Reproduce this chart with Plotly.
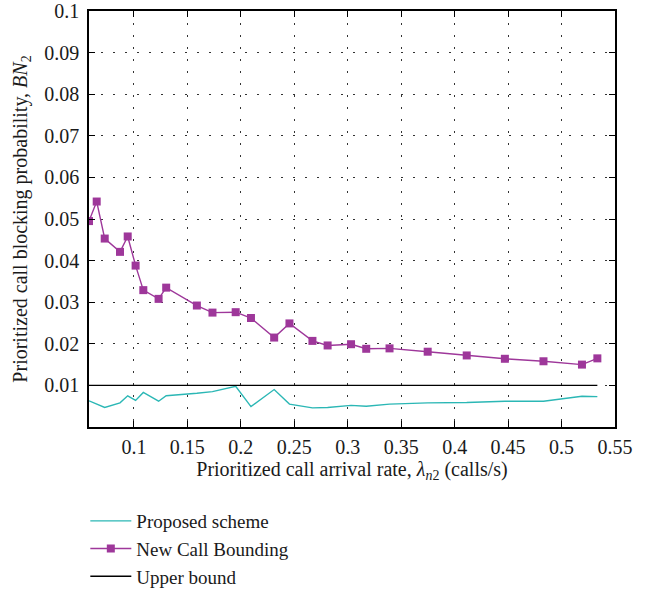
import plotly.graph_objects as go

# New Call Bounding
ncb_x = [0.058, 0.0652, 0.0727, 0.0870, 0.0942, 0.1016, 0.1088, 0.1231, 0.1302, 0.1589,
         0.1735, 0.1952, 0.2095, 0.2312, 0.2455, 0.2670, 0.2812, 0.3031, 0.3173, 0.3391,
         0.3748, 0.4113, 0.4470, 0.4831, 0.5191, 0.5335]
ncb_y = [0.0495, 0.0542, 0.0453, 0.0421, 0.0458, 0.0388, 0.0329, 0.0308, 0.0335, 0.0292,
         0.0275, 0.0276, 0.0262, 0.0215, 0.0249, 0.0207, 0.0196, 0.0199, 0.0188, 0.0189,
         0.0181, 0.0172, 0.0164, 0.0158, 0.0150, 0.0165]

# Proposed scheme
ps_x = [0.058, 0.0727, 0.0870, 0.0942, 0.1016, 0.1088, 0.1231, 0.1302, 0.1589, 0.1735,
        0.1952, 0.2095, 0.2312, 0.2455, 0.2670, 0.2812, 0.3031, 0.3173, 0.3391, 0.3748,
        0.4113, 0.4470, 0.4831, 0.5191, 0.5335]
ps_y = [0.0063, 0.0047, 0.0058, 0.0075, 0.0064, 0.0083, 0.0062, 0.0075, 0.0081, 0.0085,
        0.0098, 0.0049, 0.0090, 0.0055, 0.0046, 0.0047, 0.0052, 0.0050, 0.0055, 0.0058,
        0.0059, 0.0062, 0.0062, 0.0074, 0.0073]

# Upper bound
ub_x = [0.058, 0.5335]
ub_y = [0.01, 0.01]

x_ticks = [0.1, 0.15, 0.2, 0.25, 0.3, 0.35, 0.4, 0.45, 0.5, 0.55]
x_labels = ["0.1", "0.15", "0.2", "0.25", "0.3", "0.35", "0.4", "0.45", "0.5", "0.55"]
y_ticks = [0.01, 0.02, 0.03, 0.04, 0.05, 0.06, 0.07, 0.08, 0.09, 0.1]
y_labels = ["0.01", "0.02", "0.03", "0.04", "0.05", "0.06", "0.07", "0.08", "0.09", "0.1"]

FONT = "Liberation Serif"
TXT = "#1a1a1a"
MAGENTA = "#9E379A"
CYAN = "#2BB7B5"

fig = go.Figure()
fig.add_trace(go.Scatter(x=ps_x, y=ps_y, mode="lines", name="Proposed scheme",
                         line=dict(color=CYAN, width=1.4)))
fig.add_trace(go.Scatter(x=ncb_x, y=ncb_y, mode="lines+markers", name="New Call Bounding",
                         line=dict(color=MAGENTA, width=1.4),
                         marker=dict(symbol="square", size=8, color=MAGENTA)))
fig.add_trace(go.Scatter(x=ub_x, y=ub_y, mode="lines", name="Upper bound",
                         line=dict(color="black", width=1.4)))

axis_common = dict(
    showline=True, linecolor="black", linewidth=1.5, mirror="ticks",
    ticks="inside", ticklen=6, tickcolor="black",
    showgrid=True, gridcolor="#333", gridwidth=1, griddash="2px,10px",
    zeroline=False, automargin=False,
    tickfont=dict(family=FONT, size=20, color=TXT),
)

fig.update_xaxes(range=[0.058, 0.55], tickvals=x_ticks, ticktext=x_labels,
                 ticklabelstandoff=1,
                 title=dict(text="Prioritized call arrival rate, <i>λ</i><sub><i>n</i>2</sub> (calls/s)",
                            font=dict(family=FONT, size=20, color=TXT), standoff=0),
                 **axis_common)
fig.update_yaxes(range=[0, 0.1], tickvals=y_ticks, ticktext=y_labels,
                 ticklabelstandoff=4,
                 title=dict(text="Prioritized call blocking probability, <i>BN</i><sub>2</sub>",
                            font=dict(family=FONT, size=20, color=TXT), standoff=11),
                 **axis_common)

fig.update_layout(
    width=653, height=596,
    margin=dict(l=89, r=38, t=11, b=169),
    plot_bgcolor="white", paper_bgcolor="white",
    font=dict(family=FONT, size=20, color=TXT),
    showlegend=True,
    legend=dict(x=-0.007, xanchor="left", yref="container", y=0.0, yanchor="bottom",
                font=dict(family=FONT, size=19, color=TXT),
                bgcolor="rgba(0,0,0,0)", itemwidth=41),
)

fig.write_html("out.html", config={"displayModeBar": False},
               post_script="document.body.style.margin='0';")
